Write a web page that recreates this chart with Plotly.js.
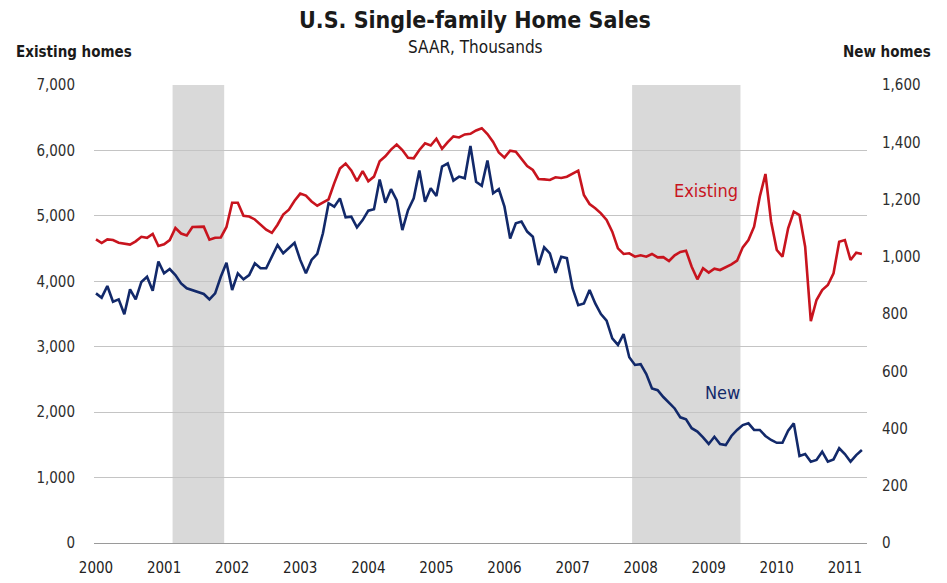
<!DOCTYPE html>
<html>
<head>
<meta charset="utf-8">
<script src="https://cdn.plot.ly/plotly-3.0.1.min.js"></script>
<style>html,body{margin:0;padding:0;background:#fff;}#chart{width:947px;height:583px;}</style>
</head>
<body>
<div id="chart"></div>
<script>
// Monthly data, Jan 2000 - Apr 2011 (SAAR, thousands)
var years = ['2000','2001','2002','2003','2004','2005','2006','2007','2008','2009','2010','2011'];

var existingHomes = [
  4640, 4585, 4640, 4630, 4590, 4575, 4560, 4610, 4680, 4665, 4725, 4540,
  4565, 4630, 4815, 4730, 4700, 4830, 4835, 4835, 4635, 4665, 4670, 4830,
  5200, 5200, 5000, 4990, 4945, 4865, 4790, 4740, 4865, 5020, 5095, 5230,
  5340, 5310, 5220, 5155, 5210, 5253, 5500, 5725, 5800, 5695, 5530, 5685,
  5530, 5600, 5835, 5910, 6012, 6090, 6005, 5888, 5880, 6007, 6109, 6075,
  6178, 6025, 6127, 6215, 6198, 6244, 6254, 6305, 6340, 6250, 6130, 5968,
  5890, 5997, 5981, 5864, 5762, 5701, 5563, 5558, 5548, 5589, 5579, 5599,
  5640, 5690, 5319, 5181, 5116, 5039, 4937, 4758, 4504, 4417, 4428, 4376,
  4397, 4376, 4417, 4366, 4370, 4310, 4397, 4448, 4468, 4223, 4030, 4198,
  4132, 4193, 4172, 4213, 4259, 4315, 4519, 4631, 4835, 5293, 5640, 4911,
  4478, 4376, 4810, 5064, 5013, 4529, 3390, 3714, 3867, 3943, 4122, 4605,
  4631, 4325, 4437, 4417
];

var newHomes = [
  872, 857, 898, 843, 851, 799, 886, 851, 912, 930, 881, 983,
  942, 957, 936, 907, 890, 884, 878, 870, 851, 872, 930, 979,
  884, 942, 921, 936, 977, 960, 960, 1000, 1041, 1012, 1029, 1049,
  989, 942, 989, 1010, 1082, 1187, 1175, 1204, 1138, 1140, 1103, 1128,
  1161, 1166, 1270, 1189, 1236, 1198, 1093, 1163, 1204, 1301, 1192, 1239,
  1212, 1315, 1326, 1266, 1280, 1274, 1387, 1262, 1248, 1336, 1222, 1236,
  1175, 1064, 1117, 1123, 1088, 1070, 971, 1033, 1012, 944, 1000, 995,
  890, 831, 837, 884, 837, 800, 777, 715, 692, 730, 649, 622,
  625, 590, 540, 534, 510, 491, 470, 439, 432, 401, 389, 369,
  346, 371, 346, 342, 374, 395, 412, 418, 395, 395, 374, 360,
  350, 350, 392, 418, 304, 311, 284, 290, 319, 284, 292, 331,
  311, 284, 307, 325
];

// Recessions (month index from Jan 2000): Mar 2001 - Nov 2001, Dec 2007 - Jun 2009
var recessionStart = [14, 95];
var recessionEnd = [22, 113];

var months = existingHomes.map(function (_, i) { return i; });
var yearTicks = years.map(function (_, k) { return k * 12; });

var FONT = "'DejaVu Sans Condensed', 'DejaVu Sans', sans-serif";
var RED = '#c8141e';
var NAVY = '#12296a';

var traces = [
  {
    x: months, y: existingHomes, type: 'scatter', mode: 'lines', name: 'Existing',
    line: {color: RED, width: 2.6}, yaxis: 'y', hoverinfo: 'skip'
  },
  {
    x: months, y: newHomes, type: 'scatter', mode: 'lines', name: 'New',
    line: {color: NAVY, width: 2.6}, yaxis: 'y2', hoverinfo: 'skip'
  }
];

var shapes = recessionStart.map(function (s, k) {
  return {
    type: 'rect', xref: 'x', yref: 'paper', layer: 'below',
    x0: s - 0.5, x1: recessionEnd[k] + 0.6, y0: 0, y1: 1,
    fillcolor: '#d9d9d9', line: {width: 0}
  };
});

var layout = {
  width: 947, height: 583,
  margin: {l: 94, r: 80, t: 85, b: 40},
  paper_bgcolor: '#ffffff', plot_bgcolor: 'rgba(0,0,0,0)',
  showlegend: false,
  font: {family: FONT, color: '#333333', size: 15},
  xaxis: {
    range: [-0.35, 135.9],
    tickvals: yearTicks, ticktext: years,
    showgrid: false, zeroline: false,
    showline: true, linecolor: '#9a9a9a', linewidth: 1.2,
    ticks: 'outside', ticklen: 11, tickcolor: 'rgba(0,0,0,0)',
    tickfont: {family: FONT, size: 15, color: '#222222'}
  },
  yaxis: {
    range: [0, 7000], dtick: 1000, tickformat: ',d',
    showgrid: true, gridcolor: '#c4c4c4', gridwidth: 1.2,
    zeroline: false, showline: false,
    ticks: 'outside', ticklen: 15, tickcolor: 'rgba(0,0,0,0)',
    tickfont: {family: FONT, size: 15, color: '#2e2e2e'}
  },
  yaxis2: {
    range: [0, 1600], dtick: 200, tickformat: ',d',
    overlaying: 'y', side: 'right',
    showgrid: false, zeroline: false, showline: false,
    ticks: 'outside', ticklen: 11, tickcolor: 'rgba(0,0,0,0)',
    tickfont: {family: FONT, size: 15, color: '#2e2e2e'}
  },
  shapes: shapes,
  annotations: [
    {text: '<b>U.S. Single-family Home Sales</b>', xref: 'paper', yref: 'paper',
     x: 0.4929, y: 1.142, xanchor: 'center', yanchor: 'middle', showarrow: false,
     font: {family: FONT, size: 23, color: '#1a1a1a'}},
    {text: 'SAAR, Thousands', xref: 'paper', yref: 'paper',
     x: 0.4929, y: 1.083, xanchor: 'center', yanchor: 'middle', showarrow: false,
     font: {family: FONT, size: 17, color: '#1a1a1a'}},
    {text: '<b>Existing homes</b>', xref: 'paper', yref: 'paper',
     x: -0.1035, y: 1.072, xanchor: 'left', yanchor: 'middle', showarrow: false,
     font: {family: FONT, size: 15, color: '#1a1a1a'}},
    {text: '<b>New homes</b>', xref: 'paper', yref: 'paper',
     x: 1.0854, y: 1.072, xanchor: 'right', yanchor: 'middle', showarrow: false,
     font: {family: FONT, size: 15, color: '#1a1a1a'}},
    {text: 'Existing', xref: 'x', yref: 'y', x: 107.5, y: 5395,
     xanchor: 'center', yanchor: 'middle', showarrow: false,
     font: {family: FONT, size: 18, color: RED}},
    {text: 'New', xref: 'x', yref: 'y', x: 110.5, y: 2293,
     xanchor: 'center', yanchor: 'middle', showarrow: false,
     font: {family: FONT, size: 18, color: NAVY}}
  ]
};

Plotly.newPlot('chart', traces, layout, {staticPlot: true, displayModeBar: false});
</script>
</body>
</html>
